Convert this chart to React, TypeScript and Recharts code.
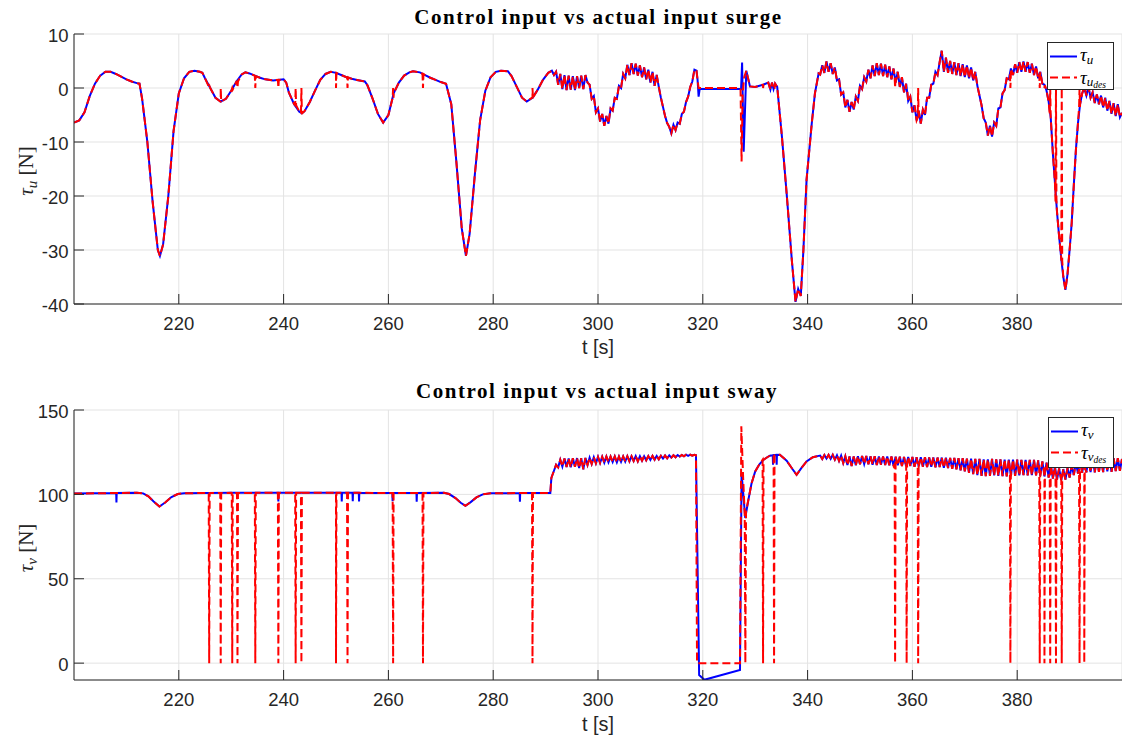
import { LineChart, Line, XAxis, YAxis, CartesianGrid } from 'recharts'

const TEXT = '#262626'
const GRID = '#e3e3e3'
const SANS = '"Liberation Sans", Arial, sans-serif'
const SERIF = '"Liberation Serif", "DejaVu Serif", serif'

const xTicks = [220, 240, 260, 280, 300, 320, 340, 360, 380]
const surgeTicks = [-40, -30, -20, -10, 0, 10]
const swayTicks = [0, 50, 100, 150]

// oscillating stretches are read every 0.4 s
const OSC_STEP = 0.4
const OSC_A_START = 291.6
const OSC_B_START = 342.4

// ---------- surge ----------
const surgeSmooth = [
  [200, -6.4], [201, -6.0], [202, -4.5], [203, -1.5], [204, 0.8], [205, 2.3], [206, 3.0], [207, 3.0],
  [208, 2.6], [209, 2.1], [210, 1.6], [211, 1.2], [212, 0.9], [212.5, 0.8], [213, -2], [214, -10],
  [215, -21], [216, -30], [216.4, -31.1], [217, -29], [218, -20], [219, -8], [220, -1], [221, 1.8],
  [222, 3.0], [223, 3.2], [224, 3.0], [224.5, 2.8], [225, 1.8], [226, 0.0], [227, -1.8], [228, -2.5],
  [229, -2.0], [230, -0.5], [231, 1.2], [232, 2.5], [232.7, 2.9], [233.5, 2.7], [234.5, 2.3],
  [235.5, 1.9], [236.5, 1.6], [238, 1.4], [240, 1.6], [240.5, 1.0], [241, -0.8], [242, -3.0],
  [243, -4.4], [243.5, -4.7], [244, -4.3], [245, -2.6], [246, -0.5], [247, 1.5], [248, 2.6],
  [249, 3.0], [250, 2.8], [251, 2.4], [252, 2.0], [253, 1.7], [254, 1.5], [255.5, 1.2], [256, 0.5],
  [257, -2], [258, -4.8], [259, -6.4], [260, -5.0], [261, -1.0], [262, 1.0], [263, 2.3], [264, 2.9],
  [264.7, 3.1], [266, 2.9], [267, 2.4], [268, 1.9], [269, 1.5], [270, 1.1], [271, 0.8], [272, -3],
  [273, -14], [274, -26], [274.8, -31.1], [275.5, -27], [276.5, -16], [277.5, -6], [278.5, -0.5],
  [279.5, 2.0], [280.5, 3.0], [281.5, 3.2], [282.8, 3.1], [283.5, 2.2], [284.5, 0.2], [285.5, -1.8],
  [286.4, -2.5], [287.5, -1.8], [288.5, -0.3], [289.5, 1.5], [290.5, 2.8], [291.2, 3.2],
]

const surgeOscA = [
  2.4, 3.0, 0.6, 2.6, -0.2, 2.4, -0.4, 2.3, -0.3, 2.2,
  -0.4, 2.2, 0.0, 2.3, -0.2, 2.4, 1.0, 0.6, -2.0, -1.5,
  -4.5, -3.8, -6.2, -4.8, -7.0, -5.2, -6.6, -3.8, -4.2, -1.8,
  -2.0, 0.4, 0.0, 2.6, 1.8, 4.3, 2.4, 4.6, 2.6, 4.5,
  2.3, 4.2, 2.0, 3.8, 1.6, 3.4, 1.0, 3.0, 0.4, 2.4,
  0.2, -1.8, -3.5, -5.2, -6.5, -7.2, -8.4, -6.8, -7.8, -6.4,
  -6.6, -4.8, -4.4, -2.6, -1.6, 0.2, 1.2, 3.4, 3.2,
]

const surgeHeadActual = [
  [319.0, 1.5], [319.2, -1.6], [319.4, -0.2], [327.3, -0.2], [327.5, 4.7], [327.8, -11.8], [328.3, 3.2],
]
const surgeHeadDesired = [
  [319.0, 1.5], [319.2, 0], [327.2, 0], [327.4, -13.6], [327.6, -1], [327.9, 2], [328.3, 3.2],
]

const surgeRecovery = [
  [329.0, 0.3], [330, 0.2], [331.5, 0.6], [332.5, 1.0], [332.9, -0.3], [333.2, 1.0], [333.5, -0.2],
  [333.8, 0.8], [334.2, 0.2], [335.1, -9], [336, -19.5], [337, -32], [337.7, -39.6], [338.2, -37.2],
  [338.7, -38.5], [339.2, -30], [339.8, -17], [340.8, -6.5], [341.4, -1], [342.1, 2.7],
]

const surgeOscB = [
  2.5, 4.2, 2.8, 4.9, 3.0, 4.6, 2.6, 3.8, 1.4, 1.6,
  -1.2, -0.8, -3.6, -2.2, -4.4, -2.6, -4.0, -1.6, -2.4, 0.4,
  -0.2, 2.0, 1.2, 3.4, 1.8, 4.2, 2.2, 4.6, 2.4, 4.5,
  2.2, 4.3, 2.0, 4.0, 1.6, 3.6, 1.0, 3.0, 0.2, 2.0,
  -0.8, 0.8, -2.4, -1.6, -4.5, -3.2, -6.0, -4.2, -6.6, -4.0,
  -5.0, -1.8, -1.8, 0.6, 0.8, 3.0, 2.4, 4.8, 6.9, 3.0,
  5.6, 2.8, 5.0, 2.6, 4.8, 2.4, 4.6, 2.2, 4.4, 2.0,
  4.2, 1.8, 3.8, 1.4, 3.0, 0.4, -1.4, -3.2, -5.6, -6.4,
  -8.8, -7.0, -9.0, -6.4, -7.0, -3.8, -3.6, -1.0, -0.4, 1.8,
  1.6, 3.6, 2.4, 4.4, 2.8, 4.8, 3.0, 4.9, 3.0, 4.8,
  2.8, 4.5, 2.4, 4.0, 1.8, 3.0, 0.8, 0.6, -0.5, -2.5,
  -5.5, -12.0, -17.5, -23.0, -27.5, -31.5, -35.0, -37.4, -34.5, -30.0,
  -25.0, -18.0, -11.5, -6.5, -3.0, -1.0, 0.0, -1.4, 0.2, -1.8,
  -0.8, -2.8, -1.2, -3.0, -1.4, -3.6, -1.8, -4.2, -2.4, -4.8,
  -2.8, -5.2, -3.0, -5.4, -4.6,
]

// ---------- sway ----------
const swaySmooth = [
  [200, 100.5], [204, 100.6], [208, 100.8], [212, 101.0], [213.2, 100.6], [214.2, 98.8], [215.2, 95.8],
  [216.3, 92.8], [217.4, 95.2], [218.6, 98.4], [219.8, 100.2], [221, 100.7], [230, 100.9], [240, 101],
  [250, 101], [260, 100.8], [270.6, 101], [271.6, 100.2], [272.8, 97.8], [273.8, 95], [274.7, 93.2],
  [275.7, 95.4], [276.8, 98.2], [278, 100], [279.5, 100.6], [285, 100.8], [290.9, 100.8],
  [291.1, 109.7], [291.3, 111.5],
]

const swayOscA = [
  114, 117.5, 116, 120.5, 116.5, 121.2, 116.2, 121.3, 116.0, 121.4,
  116.4, 121.5, 115.6, 121.5, 114.8, 121.6, 117.4, 121.8, 118.0, 122.0,
  118.4, 122.2, 118.6, 122.3, 118.8, 122.4, 119.0, 122.4, 119.2, 122.5,
  119.0, 122.4, 119.3, 122.5, 119.4, 122.6, 119.6, 122.6, 119.8, 122.7,
  119.6, 122.6, 120.0, 122.6, 120.2, 122.7, 120.4, 122.8, 120.6, 122.8,
  120.8, 122.9, 121.2, 123.0, 121.4, 123.1, 121.8, 123.2, 122.0, 123.3,
  122.4, 123.4, 122.6, 123.5, 122.8, 123.5, 123.0, 123.4,
]

const swayHeadActual = [
  [318.7, 123.2], [319.3, -7], [320.3, -9.9], [327.1, -4], [327.4, 112.6], [328.1, 86],
]
const swayHeadDesired = [
  [318.7, 123.2], [318.9, 0], [327.1, 0], [327.35, 140.3], [327.7, 110], [328.0, 88], [328.12, 0],
  [328.25, 90],
]

const swayRecovery = [
  [328.7, 96.8], [329.3, 106.5], [330, 113.6], [330.8, 117.8], [331.6, 120.5], [332.3, 122.0],
  [332.8, 122.9], [334.7, 123.5], [336, 120], [337, 115.5], [337.9, 111.6], [338.8, 115.5],
  [339.8, 119.5], [341, 122], [342.1, 122.8],
]

const swayOscB = [
  123.0, 121.0, 123.3, 121.2, 123.4, 121.0, 123.4, 120.6, 123.2, 119.8,
  123.0, 118.6, 122.6, 117.4, 122.4, 116.8, 122.4, 117.2, 122.6, 117.8,
  122.8, 118.0, 122.8, 117.8, 122.6, 117.6, 122.6, 117.4, 122.5, 117.6,
  122.5, 117.4, 122.4, 117.2, 122.4, 117.0, 122.3, 117.2, 122.3, 116.8,
  122.2, 116.6, 122.2, 116.8, 122.2, 116.4, 122.0, 116.6, 122.0, 116.4,
  122.0, 116.2, 121.9, 116.4, 121.9, 116.0, 121.8, 116.2, 121.8, 115.8,
  121.7, 115.6, 121.6, 115.2, 121.6, 114.8, 121.4, 114.2, 121.4, 113.6,
  121.2, 112.8, 121.2, 112.0, 121.0, 111.4, 121.0, 111.0, 120.8, 110.8,
  120.8, 111.0, 121.0, 111.2, 120.8, 111.0, 120.8, 110.8, 120.6, 110.6,
  120.6, 110.8, 120.6, 111.0, 120.6, 111.2, 120.5, 111.4, 120.5, 111.2,
  120.5, 111.4, 120.4, 111.2, 120.2, 111.0, 119.6, 110.6, 118.8, 110.0,
  117.6, 109.4, 116.4, 108.8, 115.4, 108.4, 115.0, 108.8, 115.6, 110.0,
  117.0, 111.4, 118.8, 112.4, 120.2, 112.8, 120.8, 113.0, 121.0, 113.2,
  121.0, 113.0, 121.2, 113.4, 121.2, 113.2, 121.3, 113.6, 121.3, 113.4,
  121.4, 113.8, 121.4, 114.0, 121.0,
]

// short dips of the actual sway input: [t, from, to]
const swayActualDips = [
  [208.1, 100.8, 95.2], [239.0, 101, 95.8], [251.1, 101, 95.8], [253.2, 101, 96.0], [254.4, 101, 95.8],
  [260.8, 100.8, 96.0], [265.4, 100.8, 95.6], [285.1, 100.8, 95.6], [333.4, 123.2, 117.5],
  [334.1, 123.4, 117.5],
]

// moments where the desired inputs drop to zero, and the level they drop from
const dropTimes = [
  225.8, 228.0, 230.2, 231.2, 234.6, 239.0, 242.3, 243.4, 250.0, 252.2, 260.9, 266.6, 287.5,
  331.5, 333.6, 356.7, 358.9, 361.1, 378.7, 384.3, 385.2, 386.3, 387.4, 388.5, 391.9, 392.8,
]
const surgeAtDrop = [
  0.3, -2.5, -0.3, 1.2, 2.2, 1.5, -3.2, -4.7, 2.8, 2.0, -1.8, 2.6, -1.8,
  0.6, 0.0, 2.0, 0.0, -5.5, 2.5, 2.5, 0.5, -5.0, -21.0, -32.0, -3.5, 0.0,
]
const swayAtDrop = [
  100.8, 100.8, 100.8, 100.8, 100.9, 100.9, 100.9, 100.9, 101, 101, 100.8, 100.8, 100.8,
  120.5, 123.2, 118, 118, 118, 115, 115, 114, 112, 112, 111, 115, 116,
]

type Pt = { t: number; v: number }
const pairs = (arr: number[][]): Pt[] => arr.map(([t, v]) => ({ t, v }))
const sampled = (start: number, vals: number[]): Pt[] =>
  vals.map((v, i) => ({ t: +(start + i * OSC_STEP).toFixed(2), v }))
const byTime = (a: Pt, b: Pt) => a.t - b.t

function withDrops(base: Pt[], from: number[]) {
  const extra: Pt[] = []
  dropTimes.forEach((t, i) => {
    extra.push({ t: t - 0.09, v: from[i] }, { t, v: 0 }, { t: t + 0.09, v: from[i] })
  })
  return [...base, ...extra].sort(byTime)
}

const surgeActual = [
  ...pairs(surgeSmooth), ...sampled(OSC_A_START, surgeOscA), ...pairs(surgeHeadActual),
  ...pairs(surgeRecovery), ...sampled(OSC_B_START, surgeOscB),
]
const surgeDesired = withDrops([
  ...pairs(surgeSmooth), ...sampled(OSC_A_START, surgeOscA), ...pairs(surgeHeadDesired),
  ...pairs(surgeRecovery), ...sampled(OSC_B_START, surgeOscB),
], surgeAtDrop)

const swayBase = (head: number[][]) => [
  ...pairs(swaySmooth), ...sampled(OSC_A_START, swayOscA), ...pairs(head),
  ...pairs(swayRecovery), ...sampled(OSC_B_START, swayOscB),
]
const swayActual = [
  ...swayBase(swayHeadActual),
  ...swayActualDips.flatMap(([t, a, b]) => [{ t: t - 0.05, v: a }, { t, v: b }, { t: t + 0.05, v: a }]),
].sort(byTime)
const swayDesired = withDrops(swayBase(swayHeadDesired), swayAtDrop)

function XTick(props: any) {
  const { x, y, payload } = props
  return (
    <g>
      <line x1={x} x2={x} y1={y} y2={y - 10} stroke={TEXT} />
      <text x={x} y={y + 25.5} textAnchor="middle" fontFamily={SANS} fontSize={18.5} fill={TEXT}>
        {payload.value}
      </text>
    </g>
  )
}

function YTick(props: any) {
  const { x, y, payload } = props
  return (
    <g>
      <line x1={x} x2={x + 10} y1={y} y2={y} stroke={TEXT} />
      <text x={x - 5.5} y={y + 7.5} textAnchor="end" fontFamily={SANS} fontSize={18.5} fill={TEXT}>
        {payload.value}
      </text>
    </g>
  )
}

function Panel({ actual, desired, domain, ticks, marginTop, axisHeight }: any) {
  return (
    <LineChart width={1122} height={369} margin={{ top: marginTop, right: 0, bottom: 0, left: 0 }}>
      <CartesianGrid stroke={GRID} />
      <XAxis
        type="number" dataKey="t" domain={[200, 400]} ticks={xTicks} interval={0} allowDataOverflow
        height={axisHeight} tickLine={false} tickSize={0} tickMargin={0}
        axisLine={{ stroke: TEXT }} tick={(p: any) => <XTick {...p} />}
      />
      <YAxis
        type="number" domain={domain} ticks={ticks} interval={0} allowDataOverflow width={74}
        tickLine={false} tickSize={0} tickMargin={0} axisLine={{ stroke: TEXT }}
        tick={(p: any) => <YTick {...p} />}
      />
      <Line data={actual} dataKey="v" type="linear" stroke="#0000ff" strokeWidth={2}
        dot={false} activeDot={false} isAnimationActive={false} />
      <Line data={desired} dataKey="v" type="linear" stroke="#ff0000" strokeWidth={2}
        strokeDasharray="8 4" dot={false} activeDot={false} isAnimationActive={false} />
    </LineChart>
  )
}

function LegendBox({ x, y, w, h, sym }: any) {
  return (
    <g>
      <rect x={x + 0.5} y={y + 0.5} width={w} height={h} fill="#fff" stroke={TEXT} />
      <line x1={x + 3} x2={x + 30} y1={y + 14.5} y2={y + 14.5} stroke="#0000ff" strokeWidth={2} />
      <text x={x + 33} y={y + 18.5} fontFamily={SERIF} fontSize={19} fill="#000">
        <tspan fontStyle="italic">τ</tspan>
        <tspan fontStyle="italic" fontSize={13} dy={3}>{sym}</tspan>
      </text>
      <line x1={x + 3} x2={x + 30} y1={y + 35.5} y2={y + 35.5} stroke="#ff0000" strokeWidth={2} strokeDasharray="8 4" />
      <text x={x + 33} y={y + 41.5} fontFamily={SERIF} fontSize={19} fill="#000">
        <tspan fontStyle="italic">τ</tspan>
        <tspan fontStyle="italic" fontSize={13} dy={2}>{sym}</tspan>
        <tspan fontStyle="italic" fontSize={9.5} dy={2}>des</tspan>
      </text>
    </g>
  )
}

function YLabel({ x, y, sym }: any) {
  return (
    <text transform={`translate(${x},${y}) rotate(-90)`} textAnchor="middle" fontFamily={SERIF} fontSize={21} fill={TEXT}>
      <tspan fontStyle="italic">τ</tspan>
      <tspan fontStyle="italic" fontSize={15} dy={4}>{sym}</tspan>
      <tspan dy={-4}>{'  [N]'}</tspan>
    </text>
  )
}

export default function App() {
  return (
    <div style={{ position: 'absolute', left: 0, top: 0, width: 1122, height: 738, background: '#fff', overflow: 'hidden' }}>
      <div style={{ position: 'absolute', left: 0, top: 0 }}>
        <Panel actual={surgeActual} desired={surgeDesired} domain={[-40, 10]} ticks={surgeTicks} marginTop={34} axisHeight={65} />
      </div>
      <div style={{ position: 'absolute', left: 0, top: 369 }}>
        <Panel actual={swayActual} desired={swayDesired} domain={[-10, 150]} ticks={swayTicks} marginTop={41} axisHeight={58} />
      </div>
      <svg width={1122} height={738} style={{ position: 'absolute', left: 0, top: 0, pointerEvents: 'none' }}>
        <text x={598.5} y={23.5} textAnchor="middle" fontFamily={SERIF} fontWeight="bold" fontSize={21} letterSpacing={1.55} fill="#000">
          Control input vs actual input surge
        </text>
        <text x={597} y={398} textAnchor="middle" fontFamily={SERIF} fontWeight="bold" fontSize={21} letterSpacing={1.55} fill="#000">
          Control input vs actual input sway
        </text>
        <text x={598} y={354} textAnchor="middle" fontFamily={SANS} fontSize={19.8} fill={TEXT}>t [s]</text>
        <text x={598} y={731} textAnchor="middle" fontFamily={SANS} fontSize={19.8} fill={TEXT}>t [s]</text>
        <YLabel x={33} y={171} sym="u" />
        <YLabel x={33} y={548} sym="v" />
        <LegendBox x={1047} y={42} w={66} h={47} sym="u" />
        <LegendBox x={1048} y={417} w={65} h={50} sym="v" />
      </svg>
    </div>
  )
}
